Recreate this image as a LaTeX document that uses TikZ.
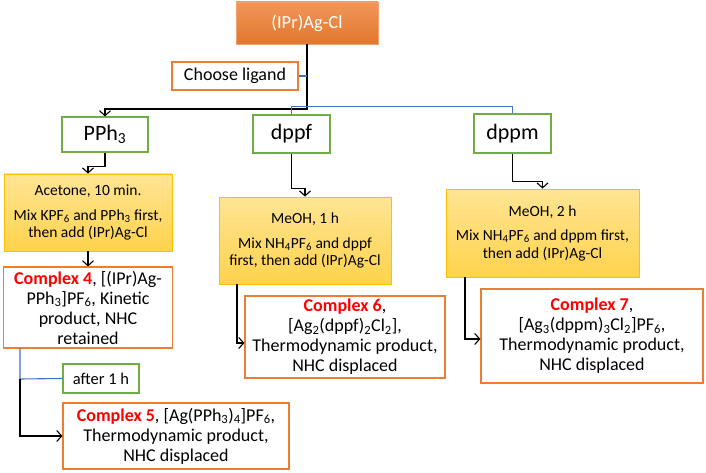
\documentclass[tikz,border=0pt]{standalone}
\usepackage{fontspec}
\setmainfont{Carlito}
\usepackage{xcolor}
\usetikzlibrary{arrows.meta, positioning, shapes}
\definecolor{myorange}{RGB}{237, 125, 49}
\definecolor{mygreen}{RGB}{112, 173, 71}
\definecolor{mygold}{RGB}{255, 192, 0}
\definecolor{myblue}{RGB}{68, 114, 196}
\definecolor{myred}{RGB}{255, 0, 0}
\newcommand{\cplx}[1]{\textcolor{myred}{\textbf{Complex #1}}}

\begin{document}
\begin{tikzpicture}[x=1pt,y=-1pt,
          box/.style={draw=myorange,fill=white,line width=1.1pt,align=center,
                      inner sep=1pt,font=\fontsize{18}{20}\selectfont},
          lig/.style={draw=mygreen,fill=white,line width=1.1pt,align=center,
                      font=\fontsize{22}{24}\selectfont},
          cond/.style={draw=mygold,line width=0.8pt,top color=mygold!42,
                       bottom color=mygold!70,align=center,inner sep=1pt,
                       font=\fontsize{15.5}{17.5}\selectfont},
          arr/.style={-{Straight Barb[length=5pt,width=11pt]},line width=1.1pt},
          blu/.style={draw=myblue,line width=1.1pt}]
        \useasboundingbox (0,0) rectangle (706,473);
        % start
        \node[draw=myorange!70,line width=0.6pt,top color=myorange!80,
              bottom color=myorange!95!black,text=white,
              minimum width=142pt,minimum height=42pt,
              font=\fontsize{18.5}{22}\selectfont](top) at (307,23){(IPr)Ag-Cl};
        \node[box,minimum width=126pt,minimum height=28pt](choose) at (235,76){Choose ligand};
        % ligands
        \node[lig,minimum width=86pt,minimum height=35pt](pph) at (105,134.5){PPh\textsubscript{3}};
        \node[lig,minimum width=77pt,minimum height=38pt](dppf) at (291.5,134){dppf};
        \node[lig,minimum width=77pt,minimum height=39pt](dppm) at (512.5,133.5){dppm};
        % conditions
        \node[cond,minimum width=168pt,minimum height=77pt](cond1) at (88,212.5){
          Acetone, 10 min.\\[7pt]
          Mix KPF\textsubscript{6} and PPh\textsubscript{3} first,\\
          then add (IPr)Ag-Cl};
        \node[cond,minimum width=172pt,minimum height=87pt](cond2) at (305,240.5){
          MeOH, 1 h\\[7pt]
          Mix NH\textsubscript{4}PF\textsubscript{6} and dppf\\
          first, then add (IPr)Ag-Cl};
        \node[cond,minimum width=193pt,minimum height=88pt](cond3) at (542.5,233){
          MeOH, 2 h\\[7pt]
          Mix NH\textsubscript{4}PF\textsubscript{6} and dppm first,\\
          then add (IPr)Ag-Cl};
        % products
        \node[box,minimum width=169pt,minimum height=81pt](c4) at (88,307.5){
          \cplx{4}, [(IPr)Ag-\\
          PPh\textsubscript{3}]PF\textsubscript{6}, Kinetic\\
          product, NHC\\ retained};
        \node[box,minimum width=200pt,minimum height=82pt](c6) at (345,337){
          \cplx{6},\\
          {[}Ag\textsubscript{2}(dppf)\textsubscript{2}Cl\textsubscript{2}],\\
          Thermodynamic product,\\ NHC displaced};
        \node[box,minimum width=222pt,minimum height=94pt](c7) at (592,336){
          \cplx{7},\\
          {[}Ag\textsubscript{3}(dppm)\textsubscript{3}Cl\textsubscript{2}]PF\textsubscript{6},\\
          Thermodynamic product,\\ NHC displaced};
        \node[lig,minimum width=76pt,minimum height=29pt,
              font=\fontsize{16.5}{19}\selectfont](after) at (101,378.5){after 1 h};
        \node[box,minimum width=226pt,minimum height=66pt](c5) at (176,436){
          \cplx{5}, [Ag(PPh\textsubscript{3})\textsubscript{4}]PF\textsubscript{6},\\
          Thermodynamic product,\\ NHC displaced};
        % connectors
        \coordinate (split) at (307,109);
        \coordinate (bsplit) at (291.5,106.5);
        \coordinate (k) at (20,379);
        \draw[arr] (top.south) -- (split) -| (pph.north);
        \draw[blu] (choose.east) -- (choose.east -| top.south);
        \draw[blu] (dppf.north) -- (bsplit) -| (dppm.north);
        \draw[arr] (pph.south) -- ++(0,14) -| (cond1.north);
        \draw[arr] (dppf.south) -- ++(0,35) -| (cond2.north);
        \draw[arr] (dppm.south) -- ++(0,28) -| (cond3.north);
        \draw[arr] (cond1) -- (c4);
        \draw[arr] ([xshift=-68pt]cond2.south) |- ([yshift=-6pt]c6.west);
        \draw[arr] ([xshift=-77.5pt]cond3.south) |- ([yshift=-3pt]c7.west);
        \draw[blu] (c4.south -| k) -- (k) -- (after.west);
        \draw[arr] (k) |- (c5.west);
      \end{tikzpicture}
\end{document}
